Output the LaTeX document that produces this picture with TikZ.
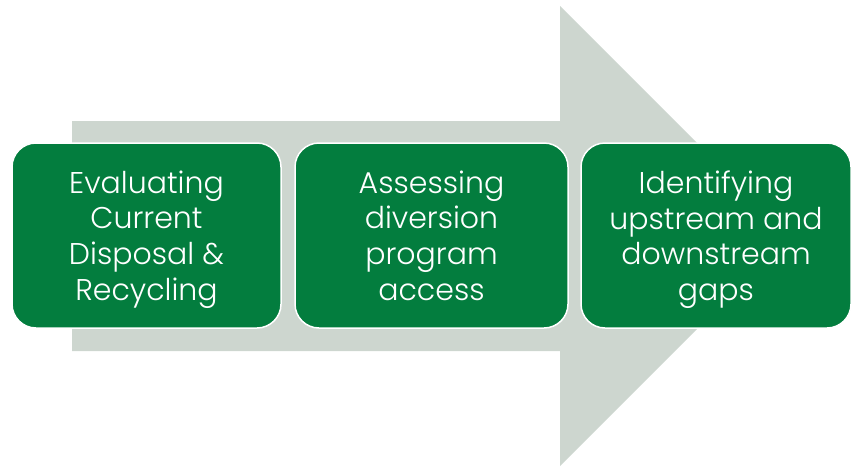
\documentclass[tikz,border=0pt]{standalone}
\usepackage{fontspec}
\setmainfont{Poppins}[UprightFont={* Light}]
\definecolor{stagegreen}{RGB}{3,125,62}
\definecolor{flowgray}{RGB}{205,214,207}
\tikzset{stage/.style={fill=stagegreen, draw=white, line width=1.5pt, rounded corners=24pt,
    text=white, align=center, inner sep=0pt, minimum height=185pt, text depth=0pt,
    font=\fontsize{30}{35.7}\selectfont}}
\begin{document}
\begin{tikzpicture}[x=1pt, y=-1pt]
      \useasboundingbox (0, 0) rectangle (851, 466);
      \fill [flowgray] (72, 121) -- (560, 121) -- (560, 6) -- (790, 236)
                       -- (560, 466) -- (560, 351) -- (72, 351) -- cycle;
      \node (evaluate) [stage, minimum width=269pt] at (146.5, 235.5)
            {Evaluating\\Current\\Disposal \&\\Recycling};
      \node (assess) [stage, minimum width=273pt] at (431.5, 235.5)
            {Assessing\\diversion\\program\\access};
      \node (identify) [stage, minimum width=270pt] at (716, 235.5)
            {Identifying\\upstream and\\downstream\\gaps};
\end{tikzpicture}
\end{document}
